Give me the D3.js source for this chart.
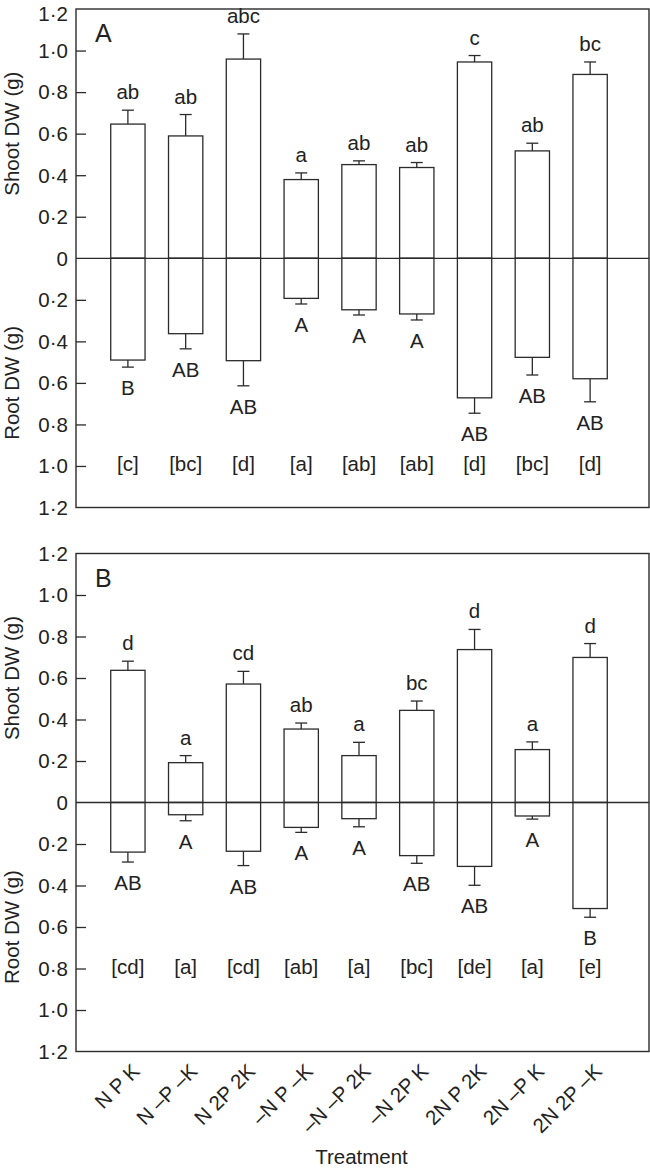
<!DOCTYPE html>
<html>
<head>
<meta charset="utf-8">
<script src="https://cdn.jsdelivr.net/npm/d3@7/dist/d3.min.js"></script>
<style>
  html, body { margin: 0; padding: 0; background: #fff; }
  svg { display: block; }
  text { font-family: "Liberation Sans", Arial, Helvetica, sans-serif; fill: #222; }
</style>
</head>
<body>
<svg id="chart" width="650" height="1170"></svg>
<script>
// ---------------- DATA ----------------
const treatments = ["N P K", "N \u2013P \u2013K", "N 2P 2K", "\u2013N P \u2013K", "\u2013N \u2013P 2K",
                    "\u2013N 2P K", "2N P 2K", "2N \u2013P K", "2N 2P \u2013K"];

// Panel A
const shootA     = [0.646, 0.589, 0.959, 0.379, 0.451, 0.437, 0.945, 0.517, 0.885];
const shootErrA  = [0.067, 0.103, 0.121, 0.032, 0.018, 0.024, 0.031, 0.037, 0.060];
const rootA      = [0.490, 0.363, 0.493, 0.193, 0.248, 0.268, 0.672, 0.477, 0.580];
const rootErrA   = [0.034, 0.073, 0.121, 0.027, 0.025, 0.029, 0.074, 0.085, 0.111];
const shootLetA  = ["ab", "ab", "abc", "a", "ab", "ab", "c", "ab", "bc"];
const rootLetA   = ["B", "AB", "AB", "A", "A", "A", "AB", "AB", "AB"];
const totalLetA  = ["[c]", "[bc]", "[d]", "[a]", "[ab]", "[ab]", "[d]", "[bc]", "[d]"];

// Panel B
const shootB     = [0.637, 0.192, 0.571, 0.354, 0.226, 0.444, 0.737, 0.255, 0.699];
const shootErrB  = [0.044, 0.034, 0.061, 0.029, 0.064, 0.045, 0.097, 0.037, 0.067];
const rootB      = [0.239, 0.059, 0.235, 0.120, 0.078, 0.256, 0.308, 0.065, 0.511];
const rootErrB   = [0.048, 0.029, 0.069, 0.024, 0.039, 0.037, 0.091, 0.015, 0.042];
const shootLetB  = ["d", "a", "cd", "ab", "a", "bc", "d", "a", "d"];
const rootLetB   = ["AB", "A", "AB", "A", "A", "AB", "AB", "A", "B"];
const totalLetB  = ["[cd]", "[a]", "[cd]", "[ab]", "[a]", "[bc]", "[de]", "[a]", "[e]"];

const tickValues = [0, 0.2, 0.4, 0.6, 0.8, 1.0, 1.2];
const tickLabels = ["0", "0\u00B72", "0\u00B74", "0\u00B76", "0\u00B78", "1\u00B70", "1\u00B72"];

// ---------------- LAYOUT ----------------
const svg = d3.select("#chart");
const plotL = 76, plotR = 649;
const INK = "#2b2b2b";
const FS = 20.5;

const x = d3.scaleBand().domain(treatments).range([99, 619])
  .paddingInner(0.406).paddingOuter(0.203);

function panel(cfg) {
  const g = svg.append("g");
  const yS = d3.scaleLinear().domain([0, 1.2]).range([cfg.zero, cfg.top]);
  const yR = d3.scaleLinear().domain([0, 1.2]).range([cfg.zero, cfg.bottom]);

  // box
  g.append("rect").attr("x", plotL).attr("y", cfg.top)
    .attr("width", plotR - plotL).attr("height", cfg.bottom - cfg.top)
    .attr("fill", "none").attr("stroke", INK).attr("stroke-width", 1.4);

  // axes (inward ticks)
  const axS = d3.axisRight(yS).tickValues(tickValues.slice(1, 6)).tickSize(10).tickFormat("");
  const axR = d3.axisRight(yR).tickValues(tickValues.slice(1, 6)).tickSize(10).tickFormat("");
  [axS, axR].forEach(ax => {
    const a = g.append("g").attr("transform", `translate(${plotL},0)`).call(ax);
    a.select(".domain").remove();
    a.selectAll("line").attr("stroke", INK).attr("stroke-width", 1.3);
  });

  // tick labels
  const labS = tickValues.map((v, i) => ({ y: yS(v), t: tickLabels[i] }));
  const labR = tickValues.slice(1).map((v, i) => ({ y: yR(v), t: tickLabels[i + 1] }));
  g.selectAll("text.tick").data(labS.concat(labR)).join("text")
    .attr("x", plotL - 8).attr("y", d => Math.max(d.y, 14)).attr("dy", "0.36em")
    .attr("text-anchor", "end").attr("font-size", FS).text(d => d.t);

  // axis titles
  g.append("text").attr("transform", `translate(19,${yS(0.6)}) rotate(-90)`)
    .attr("text-anchor", "middle").attr("font-size", FS).text("Shoot DW (g)");
  g.append("text").attr("transform", `translate(19,${yR(0.6)}) rotate(-90)`)
    .attr("text-anchor", "middle").attr("font-size", FS).text("Root DW (g)");

  // panel letter
  g.append("text").attr("x", 95).attr("y", cfg.top + 33)
    .attr("font-size", 25).text(cfg.name);

  const bw = x.bandwidth();
  const cap = 6;
  const data = treatments.map((t, i) => ({
    t, s: cfg.shoot[i], se: cfg.shootErr[i], r: cfg.root[i], re: cfg.rootErr[i],
    sl: cfg.shootLet[i], rl: cfg.rootLet[i], tl: cfg.totalLet[i]
  }));

  // error bars
  data.forEach(d => {
    const cx = x(d.t) + bw / 2;
    const eg = g.append("g").attr("stroke", INK).attr("stroke-width", 1.3);
    eg.append("line").attr("x1", cx).attr("x2", cx).attr("y1", yS(d.s)).attr("y2", yS(d.s + d.se));
    eg.append("line").attr("x1", cx - cap).attr("x2", cx + cap).attr("y1", yS(d.s + d.se)).attr("y2", yS(d.s + d.se));
    eg.append("line").attr("x1", cx).attr("x2", cx).attr("y1", yR(d.r)).attr("y2", yR(d.r + d.re));
    eg.append("line").attr("x1", cx - cap).attr("x2", cx + cap).attr("y1", yR(d.r + d.re)).attr("y2", yR(d.r + d.re));
  });

  // bars
  g.selectAll("rect.shoot").data(data).join("rect")
    .attr("x", d => x(d.t)).attr("width", bw)
    .attr("y", d => yS(d.s)).attr("height", d => yS(0) - yS(d.s))
    .attr("fill", "#fff").attr("stroke", INK).attr("stroke-width", 1.3);
  g.selectAll("rect.root").data(data).join("rect")
    .attr("x", d => x(d.t)).attr("width", bw)
    .attr("y", yR(0)).attr("height", d => yR(d.r) - yR(0))
    .attr("fill", "#fff").attr("stroke", INK).attr("stroke-width", 1.3);

  // zero line
  g.append("line").attr("x1", plotL).attr("x2", plotR)
    .attr("y1", yS(0)).attr("y2", yS(0)).attr("stroke", INK).attr("stroke-width", 1.3);

  // letters
  g.selectAll("text.sl").data(data).join("text")
    .attr("x", d => x(d.t) + bw / 2).attr("y", d => yS(d.s + d.se) - 11)
    .attr("text-anchor", "middle").attr("font-size", FS).text(d => d.sl);
  g.selectAll("text.rl").data(data).join("text")
    .attr("x", d => x(d.t) + bw / 2).attr("y", d => yR(d.r + d.re) + 28)
    .attr("text-anchor", "middle").attr("font-size", FS).text(d => d.rl);
  g.selectAll("text.tl").data(data).join("text")
    .attr("x", d => x(d.t) + bw / 2).attr("y", yR(cfg.totalLevel) + 5)
    .attr("text-anchor", "middle").attr("font-size", FS).text(d => d.tl);

  return { yS, yR };
}

panel({ name: "A", top: 9, zero: 258.3, bottom: 507.5,
  shoot: shootA, shootErr: shootErrA, root: rootA, rootErr: rootErrA,
  shootLet: shootLetA, rootLet: rootLetA, totalLet: totalLetA, totalLevel: 1.0 });

panel({ name: "B", top: 553.5, zero: 802.5, bottom: 1051.5,
  shoot: shootB, shootErr: shootErrB, root: rootB, rootErr: rootErrB,
  shootLet: shootLetB, rootLet: rootLetB, totalLet: totalLetB, totalLevel: 0.8 });

// x-axis labels (rotated)
svg.selectAll("text.xl").data(treatments).join("text")
  .attr("transform", d => `translate(${x(d) + x.bandwidth() / 2 + 13},${1051.5 + 21}) rotate(-45)`)
  .attr("text-anchor", "end").attr("font-size", FS).text(d => d);

svg.append("text").attr("x", 361.5).attr("y", 1164)
  .attr("text-anchor", "middle").attr("font-size", 20.5).text("Treatment");
</script>
</body>
</html>
